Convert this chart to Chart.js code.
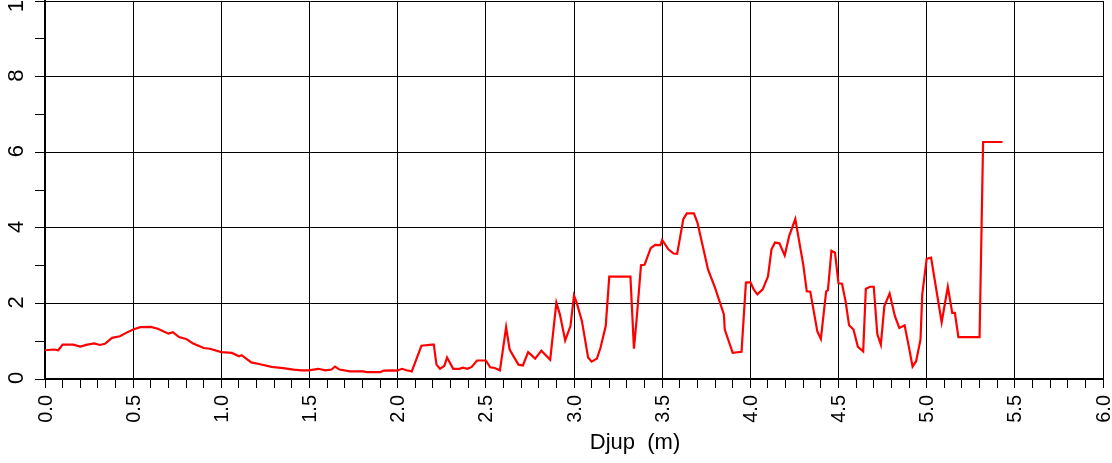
<!DOCTYPE html>
<html>
<head>
<meta charset="utf-8">
<script src="https://cdn.jsdelivr.net/npm/chart.js@4/dist/chart.umd.min.js"></script>
<style>
  html, body { margin: 0; padding: 0; background: #fff; }
  canvas { display: block; }
</style>
</head>
<body>
<canvas id="c" width="1112" height="463"></canvas>
<script>
// Depth along the profile (m)
const depth = [
  0, 0.05, 0.075, 0.10, 0.16, 0.20, 0.24, 0.28, 0.31, 0.34, 0.38, 0.425, 0.46, 0.50, 0.54, 0.60,
  0.64, 0.70, 0.725, 0.76, 0.80, 0.84, 0.90, 0.935, 1.0, 1.06, 1.10, 1.115, 1.17, 1.22, 1.285, 1.35,
  1.41, 1.455, 1.495, 1.55, 1.59, 1.625, 1.645, 1.67, 1.73, 1.805, 1.825, 1.90, 1.92, 1.975, 1.995, 2.025,
  2.05, 2.08, 2.135, 2.195, 2.205, 2.22, 2.24, 2.265, 2.28, 2.315, 2.35, 2.37, 2.395, 2.42, 2.45, 2.50,
  2.525, 2.55, 2.58, 2.615, 2.635, 2.685, 2.71, 2.74, 2.78, 2.815, 2.865, 2.90, 2.92, 2.95, 2.98, 3.0,
  3.015, 3.045, 3.08, 3.10, 3.13, 3.15, 3.18, 3.20, 3.26, 3.32, 3.34, 3.355, 3.38, 3.40, 3.435, 3.46,
  3.49, 3.50, 3.535, 3.565, 3.585, 3.62, 3.64, 3.68, 3.70, 3.76, 3.80, 3.85, 3.855, 3.90, 3.95, 3.975,
  4.0, 4.02, 4.04, 4.07, 4.10, 4.12, 4.14, 4.165, 4.195, 4.22, 4.255, 4.28, 4.30, 4.32, 4.34, 4.38,
  4.40, 4.43, 4.44, 4.46, 4.48, 4.50, 4.52, 4.54, 4.56, 4.585, 4.61, 4.64, 4.655, 4.68, 4.70, 4.72,
  4.74, 4.76, 4.79, 4.82, 4.845, 4.875, 4.895, 4.92, 4.94, 4.965, 4.975, 5.0, 5.025, 5.085, 5.12, 5.145,
  5.16, 5.18, 5.30, 5.32, 5.43
];

// Measured value at each depth
const value = [
  0.76, 0.78, 0.76, 0.91, 0.91, 0.86, 0.91, 0.94, 0.90, 0.93, 1.09, 1.13, 1.22, 1.31, 1.37, 1.38,
  1.33, 1.20, 1.24, 1.11, 1.06, 0.94, 0.82, 0.80, 0.71, 0.69, 0.60, 0.63, 0.44, 0.39, 0.32, 0.29,
  0.25, 0.23, 0.23, 0.27, 0.23, 0.25, 0.33, 0.25, 0.20, 0.20, 0.18, 0.18, 0.22, 0.23, 0.22, 0.27,
  0.23, 0.20, 0.88, 0.91, 0.91, 0.38, 0.27, 0.35, 0.57, 0.27, 0.27, 0.30, 0.27, 0.32, 0.49, 0.49,
  0.31, 0.29, 0.23, 1.37, 0.78, 0.38, 0.36, 0.71, 0.54, 0.75, 0.51, 2.02, 1.71, 1.02, 1.40, 2.21,
  2.02, 1.53, 0.57, 0.46, 0.54, 0.82, 1.40, 2.71, 2.71, 2.71, 0.80, 1.57, 3.01, 3.02, 3.46, 3.55,
  3.54, 3.68, 3.43, 3.32, 3.31, 4.23, 4.38, 4.38, 4.14, 2.90, 2.41, 1.71, 1.31, 0.69, 0.72, 2.55,
  2.56, 2.36, 2.24, 2.37, 2.71, 3.43, 3.61, 3.59, 3.27, 3.78, 4.23, 3.56, 3.03, 2.32, 2.31, 1.26,
  1.06, 2.32, 2.35, 3.39, 3.34, 2.53, 2.52, 2.06, 1.42, 1.31, 0.85, 0.73, 2.39, 2.44, 2.44, 1.19,
  0.91, 1.93, 2.26, 1.66, 1.35, 1.42, 0.95, 0.33, 0.47, 1.04, 2.24, 3.18, 3.21, 1.50, 2.44, 1.75,
  1.75, 1.11, 1.11, 6.27, 6.27
];

// Axis ranges and labelled ticks
const xRange = [0, 6];
const yRange = [0, 10];
const xLabelTicks = [0, 0.5, 1, 1.5, 2, 2.5, 3, 3.5, 4, 4.5, 5, 5.5, 6];
const yLabelTicks = [0, 2, 4, 6, 8, 10];
const xTitle = 'Djup  (m)';

const FONT = '"Liberation Sans", Arial, Helvetica, sans-serif';

const isMajorX = v => Math.round(v * 10) % 5 === 0;
const isMajorY = v => Math.round(v) % 2 === 0;

// Rotated tick labels and the depth axis title
const axisText = {
  id: 'axisText',
  afterDraw(chart) {
    const { ctx, chartArea, scales } = chart;
    const xs = scales.x, ys = scales.y;
    ctx.save();
    ctx.fillStyle = '#000';

    ctx.font = '20px ' + FONT;
    ctx.textAlign = 'right';
    ctx.textBaseline = 'middle';
    xLabelTicks.forEach(v => {
      const px = xs.getPixelForValue(v);
      ctx.save();
      ctx.translate(px + 1, chartArea.bottom + 16);
      ctx.rotate(-Math.PI / 2);
      ctx.fillText(v.toFixed(1), 0, 0);
      ctx.restore();
    });

    ctx.font = '22px ' + FONT;
    ctx.textAlign = 'center';
    yLabelTicks.forEach(v => {
      const py = ys.getPixelForValue(v);
      ctx.save();
      ctx.translate(chartArea.left - 28, py - 1);
      ctx.rotate(-Math.PI / 2);
      ctx.fillText(String(v), 0, 0);
      ctx.restore();
    });

    ctx.font = '22px ' + FONT;
    ctx.textAlign = 'center';
    ctx.textBaseline = 'alphabetic';
    const tx = chartArea.left + (chartArea.right - chartArea.left) * 0.5577;
    ctx.fillText(xTitle, tx, chartArea.bottom + 70);
    ctx.restore();
  }
};

const whiteBg = {
  id: 'whiteBg',
  beforeDraw(chart) {
    const { ctx, width, height } = chart;
    ctx.save();
    ctx.fillStyle = '#fff';
    ctx.fillRect(0, 0, width, height);
    ctx.restore();
  }
};

new Chart(document.getElementById('c'), {
  type: 'line',
  data: {
    datasets: [{
      data: depth.map((d, i) => ({ x: d, y: value[i] })),
      borderColor: '#ff0000',
      borderWidth: 2.2,
      pointRadius: 0,
      tension: 0,
      fill: false
    }]
  },
  options: {
    responsive: false,
    animation: false,
    events: [],
    layout: { padding: { top: 1, right: 9, left: 0, bottom: 0 } },
    plugins: { legend: { display: false }, tooltip: { enabled: false } },
    scales: {
      x: {
        type: 'linear',
        min: xRange[0],
        max: xRange[1],
        ticks: { stepSize: 0.1, display: false, autoSkip: false },
        grid: {
          color: c => isMajorX(c.tick.value) ? '#000' : 'rgba(0,0,0,0)',
          lineWidth: 1,
          tickColor: '#000',
          tickLength: 9,
          tickWidth: 1
        },
        border: { display: true, color: '#000', width: 2 },
        afterFit(scale) { scale.height = 84; }
      },
      y: {
        type: 'linear',
        min: yRange[0],
        max: yRange[1],
        ticks: { stepSize: 1, display: false },
        grid: {
          color: c => isMajorY(c.tick.value) ? '#000' : 'rgba(0,0,0,0)',
          lineWidth: 1,
          tickColor: '#000',
          tickLength: 10,
          tickWidth: 1
        },
        border: { display: true, color: '#000', width: 2 },
        afterFit(scale) { scale.width = 45; }
      }
    }
  },
  plugins: [whiteBg, axisText]
});
</script>
</body>
</html>
